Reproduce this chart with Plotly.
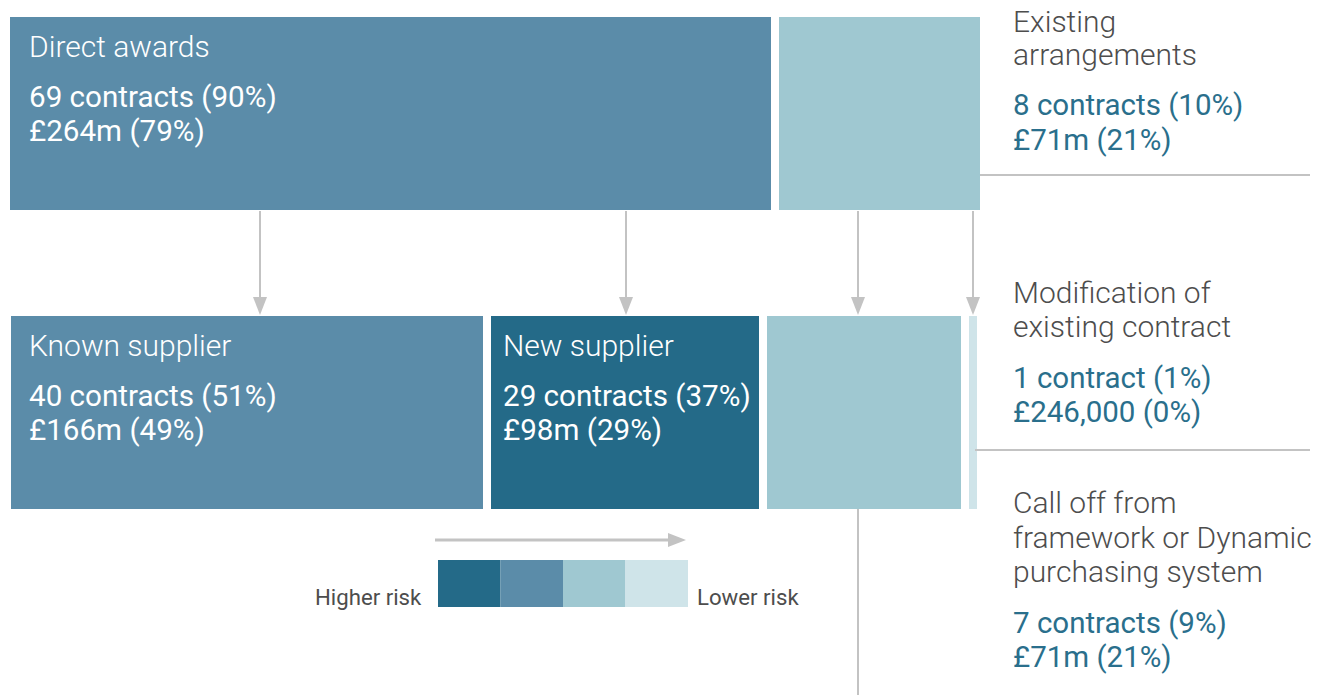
import plotly.graph_objects as go

# ---------------- data ----------------
box_names = ["Direct awards", "Existing arrangements", "Known supplier",
             "New supplier", "Modification of existing contract",
             "Call off from framework or Dynamic purchasing system"]
contracts = [69, 8, 40, 29, 1, 7]
contract_pct = [90, 10, 51, 37, 1, 9]
value_text = ["£264m", "£71m", "£166m", "£98m", "£246,000", "£71m"]
value_pct = [79, 21, 49, 29, 0, 21]
risk_labels = ["Higher risk", "Lower risk"]

# ---------------- styles ----------------
C_DARK = "#246A88"
C_MED = "#5B8CA9"
C_LIGHT = "#9FC8D1"
C_LIGHTEST = "#CFE4E9"
C_LINE = "#C3C3C3"
C_GREY_TXT = "#4D4D4D"
C_TEAL_TXT = "#2A6F8C"
FONT = "Roboto"

W, H = 1327, 695

def stat_lines(i):
    unit = "contract" if contracts[i] == 1 else "contracts"
    return [f"{contracts[i]} {unit} ({contract_pct[i]}%)",
            f"{value_text[i]} ({value_pct[i]}%)"]

# box layout (x0, x1, y0, y1, colour)
boxes = [
    (10, 771, 17, 210, C_MED),     # direct awards
    (779, 980, 17, 210, C_LIGHT),  # existing arrangements
    (11, 483, 316, 509, C_MED),    # known supplier
    (491, 759, 316, 509, C_DARK),  # new supplier
    (767, 961, 316, 509, C_LIGHT), # call off
    (969, 977, 316, 509, C_LIGHTEST),  # modification
]

fig = go.Figure()
shapes = []
annotations = []

for x0, x1, y0, y1, col in boxes:
    shapes.append(dict(type="rect", xref="x", yref="y", x0=x0, x1=x1, y0=y0, y1=y1,
                       fillcolor=col, line=dict(width=0), layer="below"))

# arrows down
def arrow_down(x, y0, y1, head_len=18, half_w=7):
    shapes.append(dict(type="line", xref="x", yref="y", x0=x, x1=x, y0=y0, y1=y1 - head_len + 1,
                       line=dict(color=C_LINE, width=2)))
    shapes.append(dict(type="path", xref="x", yref="y",
                       path=f"M {x - half_w} {y1 - head_len} L {x + half_w} {y1 - head_len} L {x} {y1} Z",
                       fillcolor=C_LINE, line=dict(width=0)))

for ax in [260, 626, 858, 973]:
    arrow_down(ax, 211, 315)

# connector lines
shapes.append(dict(type="line", xref="x", yref="y", x0=980, x1=1310, y0=175, y1=175,
                   line=dict(color=C_LINE, width=2)))
shapes.append(dict(type="line", xref="x", yref="y", x0=975, x1=1310, y0=450, y1=450,
                   line=dict(color=C_LINE, width=2)))
shapes.append(dict(type="line", xref="x", yref="y", x0=858, x1=858, y0=509, y1=695,
                   line=dict(color=C_LINE, width=2)))

# legend
shapes.append(dict(type="line", xref="x", yref="y", x0=435, x1=669, y0=540, y1=540,
                   line=dict(color=C_LINE, width=3)))
shapes.append(dict(type="path", xref="x", yref="y",
                   path="M 668 533 L 668 547 L 686 540 Z", fillcolor=C_LINE, line=dict(width=0)))
legend_cols = [C_DARK, C_MED, C_LIGHT, C_LIGHTEST]
lx0, lx1 = 438, 688
step = (lx1 - lx0) / len(legend_cols)
for k, col in enumerate(legend_cols):
    shapes.append(dict(type="rect", xref="x", yref="y", x0=lx0 + k * step, x1=lx0 + (k + 1) * step,
                       y0=560, y1=607, fillcolor=col, line=dict(width=0)))

PAD = 3
def text(x, baseline, s, size, color, weight=400, anchor="left"):
    xx = x - PAD if anchor == "left" else x + PAD
    annotations.append(dict(x=xx, y=baseline - 0.34 * size, xref="x", yref="y", text=s,
                            showarrow=False, xanchor=anchor, yanchor="middle",
                            font=dict(family=FONT, size=size, color=color, weight=weight)))

TS = 30  # title size in boxes
VS = 29.6
# in-box labels
inbox = [(0, 30, 17), (2, 30, 316), (3, 504, 316)]
for i, x, top in inbox:
    text(x, top + 40, box_names[i], TS, "white", 300)
    l1, l2 = stat_lines(i)
    text(x, top + 90, l1, VS, "white", 400)
    text(x, top + 124, l2, VS, "white", 400)

# right side labels
RS = 30
right = [
    (1, ["Existing", "arrangements"], [32, 65], [115, 150]),
    (4, ["Modification of", "existing contract"], [303, 337], [388, 422]),
    (5, ["Call off from", "framework or Dynamic", "purchasing system"], [513, 548, 582], [633, 667]),
]
for i, lines, tb, vb in right:
    for s, b in zip(lines, tb):
        text(1014, b, s, RS, C_GREY_TXT, 300)
    for s, b in zip(stat_lines(i), vb):
        text(1014, b, s, RS - 0.5, C_TEAL_TXT, 400)

text(421, 605, risk_labels[0], 22.2, C_GREY_TXT, 400, anchor="right")
text(698, 605, risk_labels[1], 22.2, C_GREY_TXT, 400, anchor="left")

fig.update_layout(
    width=W, height=H, margin=dict(l=0, r=0, t=0, b=0),
    paper_bgcolor="white", plot_bgcolor="white",
    xaxis=dict(range=[0, W], visible=False, fixedrange=True),
    yaxis=dict(range=[H, 0], visible=False, fixedrange=True),
    shapes=shapes, annotations=annotations, showlegend=False,
)
fig.write_html("out.html", config={"displayModeBar": False})
